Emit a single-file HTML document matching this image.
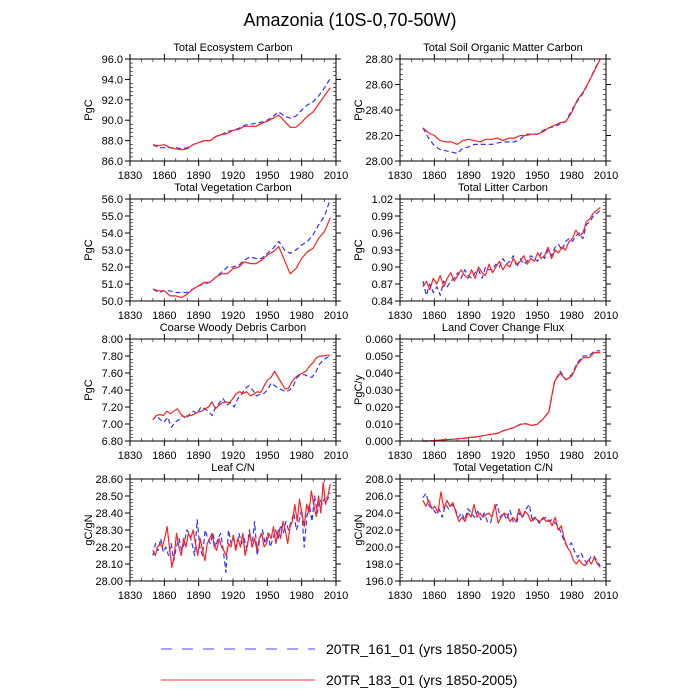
<!DOCTYPE html>
<html><head><meta charset="utf-8"><style>
html,body{margin:0;padding:0;background:#fff;}
svg{display:block;font-family:"Liberation Sans",sans-serif;}
</style></head><body>
<svg id="fig" width="700" height="700" viewBox="0 0 700 700">
<text x="350" y="26" font-size="18" text-anchor="middle">Amazonia (10S-0,70-50W)</text>
<g>
<line x1="161" y1="649" x2="315" y2="649" stroke="#4444ff" stroke-width="1" stroke-dasharray="11,10"/>
<text x="326" y="654" font-size="14">20TR_161_01 (yrs 1850-2005)</text>
<line x1="161" y1="680" x2="315" y2="680" stroke="#ff3333" stroke-width="1"/>
<text x="326" y="685" font-size="14">20TR_183_01 (yrs 1850-2005)</text>
</g>
</svg>
<script>
const xTicks = [1830,1860,1890,1920,1950,1980,2010];
const ecoRed = [87.6,87.5,87.6,87.3,87.2,87.1,87.2,87.6,87.8,88.0,88.0,88.4,88.6,88.7,89.0,89.1,89.4,89.4,89.4,89.7,89.9,90.2,90.5,89.9,89.3,89.3,89.8,90.4,90.8,91.6,92.4,93.2];
const ecoBlue = [87.6,87.3,87.3,87.3,87.3,87.2,87.3,87.6,87.8,88.0,88.0,88.4,88.6,88.9,89.0,89.2,89.5,89.6,89.7,89.8,90.0,90.4,90.8,90.4,90.2,90.4,91.0,91.5,91.8,92.4,93.2,94.1];
const ecoTicks = ["86.0","88.0","90.0","92.0","94.0","96.0"];
const soilRed = [28.26,28.22,28.20,28.16,28.15,28.15,28.13,28.16,28.17,28.16,28.15,28.17,28.17,28.18,28.16,28.18,28.18,28.20,28.20,28.21,28.21,28.23,28.26,28.28,28.30,28.31,28.38,28.48,28.54,28.62,28.71,28.80];
const soilBlue = [28.26,28.18,28.12,28.09,28.08,28.07,28.06,28.10,28.11,28.13,28.13,28.13,28.13,28.14,28.15,28.15,28.15,28.17,28.21,28.21,28.21,28.24,28.26,28.27,28.29,28.31,28.40,28.47,28.53,28.62,28.72,28.80];
const soilTicks = ["28.00","28.20","28.40","28.60","28.80"];
const vegRed = [50.7,50.6,50.6,50.3,50.3,50.2,50.4,50.7,50.9,51.1,51.1,51.4,51.6,51.6,51.9,52.0,52.3,52.2,52.2,52.4,52.7,52.9,53.2,52.4,51.6,51.9,52.5,52.9,53.1,53.7,54.1,54.9];
const vegBlue = [50.7,50.5,50.6,50.6,50.5,50.5,50.5,50.7,50.9,51.0,51.1,51.4,51.7,52.0,52.0,52.1,52.4,52.6,52.5,52.5,52.8,53.1,53.5,53.0,52.8,53.0,53.3,53.5,53.9,54.5,55.0,56.0];
const vegTicks = ["50.0","51.0","52.0","53.0","54.0","55.0","56.0"];
const litRed = [0.865,0.875,0.860,0.880,0.870,0.885,0.865,0.880,0.890,0.875,0.885,0.895,0.885,0.880,0.895,0.880,0.900,0.890,0.885,0.905,0.890,0.900,0.910,0.895,0.905,0.900,0.915,0.905,0.910,0.920,0.905,0.915,0.910,0.925,0.915,0.920,0.935,0.915,0.930,0.925,0.935,0.930,0.945,0.950,0.965,0.955,0.960,0.980,0.985,0.995,1.000,1.005];
const litBlue = [0.875,0.850,0.870,0.855,0.865,0.850,0.875,0.865,0.875,0.880,0.890,0.880,0.895,0.885,0.880,0.890,0.895,0.880,0.900,0.895,0.895,0.905,0.900,0.915,0.905,0.910,0.920,0.900,0.915,0.905,0.910,0.920,0.915,0.910,0.925,0.915,0.930,0.920,0.935,0.940,0.930,0.945,0.950,0.945,0.955,0.960,0.950,0.975,0.980,0.990,0.995,1.000];
const litTicks = ["0.84","0.87","0.90","0.93","0.96","0.99","1.02"];
const cwdRed = [7.05,7.10,7.11,7.10,7.15,7.12,7.15,7.18,7.12,7.08,7.10,7.10,7.12,7.14,7.15,7.18,7.20,7.26,7.18,7.22,7.25,7.26,7.25,7.30,7.36,7.38,7.36,7.38,7.33,7.35,7.38,7.37,7.45,7.52,7.55,7.62,7.55,7.48,7.41,7.42,7.50,7.55,7.58,7.60,7.62,7.68,7.72,7.78,7.80,7.80,7.81,7.81];
const cwdBlue = [7.05,7.10,7.05,7.02,7.08,6.96,7.02,7.05,7.10,7.06,7.12,7.15,7.12,7.20,7.18,7.15,7.10,7.20,7.25,7.30,7.22,7.25,7.20,7.30,7.35,7.42,7.45,7.40,7.33,7.35,7.36,7.40,7.48,7.45,7.42,7.40,7.38,7.40,7.45,7.55,7.58,7.58,7.56,7.55,7.60,7.70,7.75,7.78,7.80];
const cwdTicks = ["6.80","7.00","7.20","7.40","7.60","7.80","8.00"];
const lccRed = [0,0,0.0003,0.0005,0.0008,0.001,0.0013,0.0016,0.002,0.0023,0.0028,0.0034,0.004,0.0045,0.006,0.007,0.008,0.0098,0.0102,0.0092,0.0098,0.013,0.017,0.035,0.040,0.036,0.038,0.045,0.049,0.049,0.052,0.052];
const lccBlue = [0,0,0.0003,0.0005,0.0008,0.001,0.0013,0.0016,0.002,0.0023,0.0028,0.0034,0.004,0.0045,0.006,0.007,0.008,0.0098,0.0102,0.0092,0.0098,0.013,0.017,0.035,0.041,0.036,0.039,0.046,0.050,0.050,0.053,0.053];
const lccTicks = ["0.000","0.010","0.020","0.030","0.040","0.050","0.060"];
const leafRed = [28.18,28.15,28.20,28.22,28.20,28.25,28.32,28.20,28.08,28.15,28.28,28.20,28.15,28.25,28.20,28.28,28.25,28.30,28.22,28.15,28.25,28.18,28.12,28.22,28.25,28.28,28.20,28.18,28.25,28.20,28.18,28.15,28.22,28.20,28.27,28.18,28.25,28.20,28.28,28.15,28.22,28.28,28.20,28.25,28.18,28.25,28.28,28.20,28.22,28.28,28.25,28.32,28.22,28.30,28.25,28.35,28.30,28.22,28.32,28.35,28.45,28.35,28.48,28.40,28.32,28.45,28.40,28.53,28.45,28.38,28.50,28.40,28.58,28.45,28.50,28.57];
const leafBlue = [28.15,28.22,28.18,28.25,28.17,28.20,28.15,28.22,28.12,28.20,28.25,28.18,28.22,28.30,28.28,28.22,28.15,28.36,28.20,28.15,28.30,28.25,28.22,28.28,28.20,28.25,28.28,28.18,28.05,28.30,28.22,28.25,28.20,28.28,28.22,28.25,28.18,28.30,28.20,28.35,28.15,28.25,28.30,28.22,28.28,28.20,28.25,28.30,28.25,28.33,28.28,28.35,28.30,28.35,28.40,28.30,28.35,28.42,28.20,28.38,28.45,28.35,28.50,28.40,28.48,28.45,28.50,28.48,28.52];
const leafTicks = ["28.00","28.10","28.20","28.30","28.40","28.50","28.60"];
const cnRed = [205.5,204.8,205.5,204.5,204.8,204.0,206.5,204.5,205.5,204.8,205.2,204.0,203.0,203.5,203.0,204.0,203.5,205.0,203.5,204.0,203.5,203.8,204.0,203.5,205.0,202.8,203.5,204.0,203.8,203.0,203.5,203.0,204.5,203.5,204.2,203.8,203.0,203.5,203.2,203.0,203.5,203.0,203.2,202.5,203.5,202.0,202.5,201.0,200.0,199.5,198.5,198.0,198.5,198.0,197.8,198.5,198.0,198.8,198.0,197.6];
const cnBlue = [205.8,206.3,204.8,204.5,204.0,204.5,203.5,205.0,204.5,205.0,204.5,203.5,204.0,203.2,204.5,204.0,203.5,204.2,203.2,204.0,203.0,202.8,204.5,205.0,203.5,204.0,203.2,204.3,203.0,202.8,204.0,203.5,204.5,205.0,203.0,203.5,202.8,203.2,203.5,203.0,203.2,202.8,202.5,201.5,200.5,200.0,200.5,199.5,198.8,199.3,198.5,198.0,198.8,199.0,198.3,197.8];
const cnTicks = ["196.0","198.0","200.0","202.0","204.0","206.0","208.0"];

const NS = "http://www.w3.org/2000/svg";
const svg = document.getElementById("fig");
function mk(tag, attrs, parent){const e=document.createElementNS(NS,tag);for(const k in attrs)e.setAttribute(k,attrs[k]);(parent||svg).appendChild(e);return e;}

const panels = [
 {title:"Total Ecosystem Carbon", unit:"PgC", ticks:ecoTicks, red:ecoRed, blue:ecoBlue, col:0,row:0, slug:"ecosystem-carbon"},
 {title:"Total Soil Organic Matter Carbon", unit:"PgC", ticks:soilTicks, red:soilRed, blue:soilBlue, col:1,row:0, slug:"soil-carbon"},
 {title:"Total Vegetation Carbon", unit:"PgC", ticks:vegTicks, red:vegRed, blue:vegBlue, col:0,row:1, slug:"vegetation-carbon"},
 {title:"Total Litter Carbon", unit:"PgC", ticks:litTicks, red:litRed, blue:litBlue, col:1,row:1, slug:"litter-carbon"},
 {title:"Coarse Woody Debris Carbon", unit:"PgC", ticks:cwdTicks, red:cwdRed, blue:cwdBlue, col:0,row:2, slug:"cwd-carbon"},
 {title:"Land Cover Change Flux", unit:"PgC/y", ticks:lccTicks, red:lccRed, blue:lccBlue, col:1,row:2, slug:"lcc-flux"},
 {title:"Leaf C/N", unit:"gC/gN", ticks:leafTicks, red:leafRed, blue:leafBlue, col:0,row:3, slug:"leaf-cn"},
 {title:"Total Vegetation C/N", unit:"gC/gN", ticks:cnTicks, red:cnRed, blue:cnBlue, col:1,row:3, slug:"vegetation-cn"}
];

panels.forEach(p=>{
  const L = p.col===0?130:400, W=206, T = 59+p.row*140, H=102;
  const g = mk("g",{});
  
  
  const ymin=parseFloat(p.ticks[0]), ymax=parseFloat(p.ticks[p.ticks.length-1]);
  const xs = v => L + (v-1830)/(180)*W;
  const ys = v => T + H - (v-ymin)/(ymax-ymin)*H;
  const t = mk("text",{x:L+W/2,y:T-8,"font-size":11,"text-anchor":"middle"},g);
  t.textContent=p.title;
  
  
  const yl = mk("text",{x:0,y:0,"font-size":11,"text-anchor":"middle",transform:`translate(${L-38},${T+H/2}) rotate(-90)`},g);
  yl.textContent=p.unit;
  
  
  const nt=p.ticks.length;
  for(let i=0;i<nt-1;i++){
    for(let k=1;k<5;k++){
      const yy=T+H-((i+k/5)/(nt-1))*H;
      mk("line",{x1:L,x2:L+3,y1:yy,y2:yy,stroke:"#000","stroke-width":0.6},g);
      mk("line",{x1:L+W,x2:L+W-3,y1:yy,y2:yy,stroke:"#000","stroke-width":0.6},g);
    }
  }
  p.ticks.forEach(tk=>{
    const yy=ys(parseFloat(tk));
    mk("line",{x1:L-5,x2:L,y1:yy,y2:yy,stroke:"#000","stroke-width":1},g);
    mk("line",{x1:L+W,x2:L+W+5,y1:yy,y2:yy,stroke:"#000","stroke-width":1},g);
    const tl=mk("text",{x:L-7,y:yy+4,"font-size":11,"text-anchor":"end"},g);
    tl.textContent=tk;
    
    
  });
  for(let yr=1830;yr<=2010;yr+=10){
    const xx=xs(yr);
    mk("line",{x1:xx,x2:xx,y1:T+H,y2:T+H-3,stroke:"#000","stroke-width":0.6},g);
    mk("line",{x1:xx,x2:xx,y1:T,y2:T+3,stroke:"#000","stroke-width":0.6},g);
  }
  xTicks.forEach(v=>{
    const xx=xs(v);
    mk("line",{x1:xx,x2:xx,y1:T+H,y2:T+H+5,stroke:"#000","stroke-width":1},g);
    mk("line",{x1:xx,x2:xx,y1:T-5,y2:T,stroke:"#000","stroke-width":1},g);
    const tl=mk("text",{x:xx,y:T+H+18,"font-size":11,"text-anchor":"middle"},g);
    tl.textContent=String(v);
    
    
  });
  const line = (arr,color,dash,name)=>{
    const n=arr.length;
    const pts=arr.map((v,i)=>xs(1850+i*155/(n-1)).toFixed(1)+","+ys(v).toFixed(1)).join(" ");
    const a={points:pts,fill:"none",stroke:color,"stroke-width":1.2,"stroke-linejoin":"round"};
    if(dash)a["stroke-dasharray"]=dash;
    const pl=mk("polyline",a,g);
    
    
  };
  line(p.blue,"#3333ff","5,3",p.slug+'-series-161');
  line(p.red,"#ff2020",null,p.slug+'-series-183');
  const fr=mk("rect",{x:L,y:T,width:W,height:H,fill:"none",stroke:"#000","stroke-width":1},g);
  
  
});
</script>
</body></html>
